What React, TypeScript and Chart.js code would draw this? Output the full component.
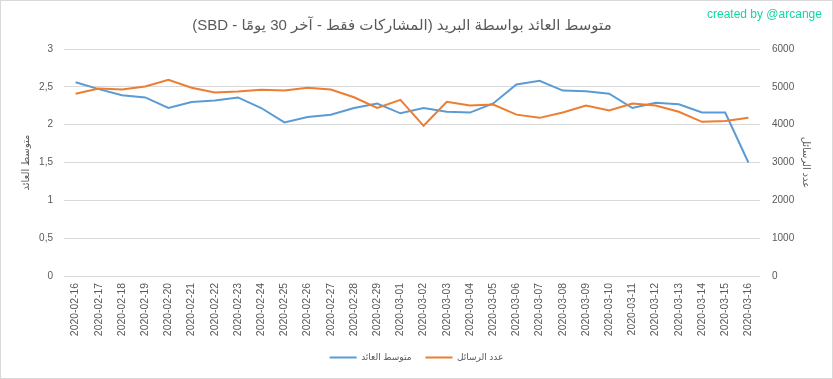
import React, { useEffect, useRef } from "react";
import { Chart, registerables } from "chart.js";

Chart.register(...registerables);

const DATES = [
  "2020-02-16", "2020-02-17", "2020-02-18", "2020-02-19", "2020-02-20",
  "2020-02-21", "2020-02-22", "2020-02-23", "2020-02-24", "2020-02-25",
  "2020-02-26", "2020-02-27", "2020-02-28", "2020-02-29", "2020-03-01",
  "2020-03-02", "2020-03-03", "2020-03-04", "2020-03-05", "2020-03-06",
  "2020-03-07", "2020-03-08", "2020-03-09", "2020-03-10", "2020-03-11",
  "2020-03-12", "2020-03-13", "2020-03-14", "2020-03-15", "2020-03-16",
];

const AVG_RETURN = [
  2.56, 2.47, 2.39, 2.36, 2.22, 2.3, 2.32, 2.36, 2.22, 2.03,
  2.1, 2.13, 2.22, 2.28, 2.15, 2.22, 2.17, 2.16, 2.28, 2.53,
  2.58, 2.45, 2.44, 2.41, 2.22, 2.29, 2.27, 2.16, 2.16, 1.5,
];

const MESSAGES = [
  4815, 4955, 4930, 5010, 5185, 4975, 4850, 4875, 4920, 4905,
  4975, 4930, 4725, 4445, 4655, 3970, 4605, 4505, 4530, 4265,
  4180, 4320, 4505, 4375, 4560, 4505, 4340, 4075, 4100, 4180,
];

const LEFT_TICKS = [0, 0.5, 1, 1.5, 2, 2.5, 3];
const RIGHT_TICKS = [0, 1000, 2000, 3000, 4000, 5000, 6000];

const SERIES_AVG = "متوسط العائد";
const SERIES_MSG = "عدد الرسائل";
const TITLE = "متوسط العائد بواسطة البريد (المشاركات فقط - آخر 30 يومًا - SBD)";
const CREDIT = "created by @arcange";

const FONT = '"Liberation Sans", "DejaVu Sans", Arial, sans-serif';
const TEXT_COLOR = "#595959";
const GRID_COLOR = "#d9d9d9";
const BLUE = "#5B9BD5";
const ORANGE = "#ED7D31";

const W = 833;
const H = 379;

const decorPlugin = {
  id: "decor",
  beforeDraw(chart: any) {
    const ctx = chart.ctx;
    ctx.save();
    ctx.fillStyle = "#ffffff";
    ctx.fillRect(0, 0, chart.width, chart.height);
    ctx.restore();
  },
  afterDraw(chart: any) {
    const ctx = chart.ctx;
    ctx.save();
    ctx.strokeStyle = GRID_COLOR;
    ctx.lineWidth = 1;
    ctx.strokeRect(0.5, 0.5, chart.width - 1, chart.height - 1);

    ctx.fillStyle = TEXT_COLOR;
    ctx.font = `15px ${FONT}`;
    ctx.direction = "rtl";
    ctx.textAlign = "center";
    ctx.textBaseline = "middle";
    ctx.fillText(TITLE, 402, 26);

    ctx.direction = "ltr";
    ctx.textAlign = "left";
    ctx.fillStyle = "#14d6a4";
    ctx.font = `12px ${FONT}`;
    ctx.fillText(CREDIT, 707, 15);
    ctx.restore();
  },
};

export default function App() {
  const ref = useRef<HTMLCanvasElement | null>(null);

  useEffect(() => {
    document.body.style.margin = "0";
    const canvas = ref.current;
    if (!canvas) return;
    const legendPad = 14;
    const legendFont = 9;
    const padBottom = 7;
    const chart = new Chart(canvas, {
      type: "line",
      data: {
        labels: DATES,
        datasets: [
          {
            label: SERIES_AVG,
            data: AVG_RETURN,
            borderColor: BLUE,
            backgroundColor: BLUE,
            borderWidth: 2,
            pointRadius: 0,
            tension: 0,
            yAxisID: "y",
            order: 1,
          },
          {
            label: SERIES_MSG,
            data: MESSAGES,
            borderColor: ORANGE,
            backgroundColor: ORANGE,
            borderWidth: 2,
            pointRadius: 0,
            tension: 0,
            yAxisID: "y1",
            order: 0,
          },
        ],
      },
      options: {
        responsive: false,
        animation: false,
        devicePixelRatio: 1,
        layout: { padding: { top: 49, left: 0, right: 0, bottom: padBottom } },
        plugins: {
          title: { display: false },
          tooltip: { enabled: false },
          legend: {
            display: true,
            position: "bottom",
            labels: {
              usePointStyle: true,
              pointStyle: "line",
              pointStyleWidth: 27,
              padding: legendPad,
              color: TEXT_COLOR,
              font: { family: FONT, size: legendFont },
              sort: (a: any, b: any) => a.datasetIndex - b.datasetIndex,
            },
          },
        },
        scales: {
          x: {
            offset: true,
            grid: { display: false, drawTicks: false },
            border: { display: false },
            ticks: {
              autoSkip: false,
              minRotation: 90,
              maxRotation: 90,
              padding: 7,
              color: TEXT_COLOR,
              font: { family: FONT, size: 10.4 },
            },
            afterFit: (s: any) => {
              s.height = H - padBottom - (legendFont + legendPad + 10) - 276;
            },
          },
          y: {
            position: "left",
            min: 0,
            max: 3,
            grid: { color: GRID_COLOR, drawTicks: false, lineWidth: 1 },
            border: { display: false },
            afterBuildTicks: (s: any) => {
              s.ticks = LEFT_TICKS.map((v) => ({ value: v }));
            },
            ticks: {
              padding: 11,
              color: TEXT_COLOR,
              font: { family: FONT, size: 10 },
              callback: (v: any) => String(v).replace(".", ","),
            },
            title: {
              display: true,
              text: SERIES_AVG,
              color: TEXT_COLOR,
              font: { family: FONT, size: 10 },
              padding: { top: 20, bottom: 0 },
            },
            afterFit: (s: any) => {
              s.width = 64;
            },
          },
          y1: {
            position: "right",
            min: 0,
            max: 6000,
            grid: { display: false, drawTicks: false },
            border: { display: false },
            afterBuildTicks: (s: any) => {
              s.ticks = RIGHT_TICKS.map((v) => ({ value: v }));
            },
            ticks: {
              padding: 12,
              color: TEXT_COLOR,
              font: { family: FONT, size: 10 },
              callback: (v: any) => String(v),
            },
            title: {
              display: true,
              text: SERIES_MSG,
              color: TEXT_COLOR,
              font: { family: FONT, size: 10 },
              padding: { top: 21, bottom: 0 },
            },
            afterFit: (s: any) => {
              s.width = W - 760;
            },
          },
        },
      },
      plugins: [decorPlugin],
    } as any);
    return () => chart.destroy();
  }, []);

  return (
    <div style={{ position: "absolute", left: 0, top: 0, width: W, height: H }}>
      <canvas ref={ref} width={W} height={H} style={{ width: W, height: H, display: "block" }} />
    </div>
  );
}
